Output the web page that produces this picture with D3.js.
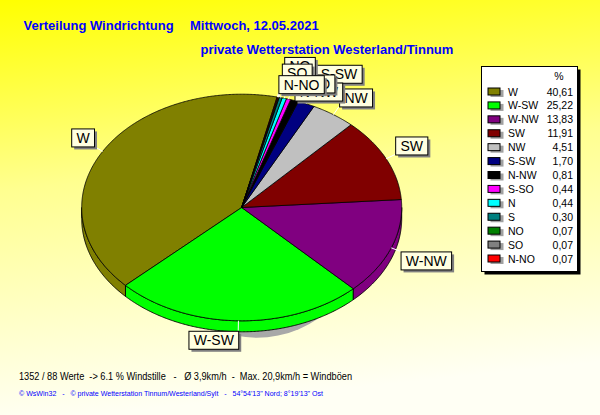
<!DOCTYPE html>
<html><head><meta charset="utf-8">
<script src="https://cdn.jsdelivr.net/npm/d3@7"></script>
<style>body{margin:0;overflow:hidden;background:#fff}svg{display:block}text{white-space:pre}</style>
</head><body>
<svg id="c" width="600" height="415"></svg>
<script>
// ---------- data ----------
const categories = ["W","W-SW","W-NW","SW","NW","S-SW","N-NW","S-SO","N","S","NO","SO","N-NO"];
const percentages = [40.61,25.22,13.83,11.91,4.51,1.70,0.81,0.44,0.44,0.30,0.07,0.07,0.07];
const sliceColors = ["#808000","#00ff00","#800080","#800000","#c0c0c0","#000080","#000000","#ff00ff","#00ffff","#008080","#008000","#808080","#ff0000"];
const titleText = "Verteilung Windrichtung";
const dateText = "Mittwoch, 12.05.2021";
const stationText = "private Wetterstation Westerland/Tinnum";
const statsText = "1352 / 88 Werte  -> 6.1 % Windstille   -   Ø 3,9km/h  -  Max. 20,9km/h = Windböen";
const creditText = "© WsWin32   -   © private Wetterstation Tinnum/Westerland/Sylt   -   54°54'13\" Nord; 8°19'13\" Ost";
const legendHeader = "%";

// ---------- layout ----------
const cx = 241.7, cy = 207.5, rx = 160, ry = 113.3, depth = 11;
const startDeg = 12.8;
// radial nudges of crowded labels (layout only)
const labelRadialNudge = [0,0,0,0,0,13,-10,-3,0,0,13,6,-6];

const svg = d3.select("#c");
const defs = svg.append("defs");
const grad = defs.append("linearGradient").attr("id","bg").attr("x1",0).attr("y1",0).attr("x2",0.15).attr("y2",1);
grad.append("stop").attr("offset","0%").attr("stop-color","#ffff00");
grad.append("stop").attr("offset","45%").attr("stop-color","#ffff90");
grad.append("stop").attr("offset","100%").attr("stop-color","#fffff4");
svg.append("rect").attr("width",600).attr("height",415).attr("fill","url(#bg)");

const data = categories.map((c,i)=>({cat:c, v:percentages[i], color:sliceColors[i], i}));
const a0 = startDeg*Math.PI/180;
const pie = d3.pie().sort(null).value(d=>d.v).startAngle(a0).endAngle(a0-2*Math.PI);
const arcs = pie(data);

function P(t, ex=0, dy=0){ return [cx+(rx+ex)*Math.sin(t), cy-(ry+ex)*Math.cos(t)+dy]; }
function arcPts(u,v,dy){
  const n=Math.max(2,Math.ceil(Math.abs(v-u)/(Math.PI/360)));
  return d3.range(n+1).map(k=>P(u+(v-u)*k/n,0,dy));
}
const line = d3.line();

// shadow
svg.append("ellipse").attr("cx",cx+15).attr("cy",cy+depth+6).attr("rx",110).attr("ry",ry)
  .attr("fill","#a8a8a8");

// side walls
const sideG = svg.append("g");
arcs.forEach(a=>{
  const lo=Math.min(a.startAngle,a.endAngle), hi=Math.max(a.startAngle,a.endAngle);
  for(let k=-2;k<=2;k++){
    const u=Math.max(lo,Math.PI/2+2*Math.PI*k), v=Math.min(hi,3*Math.PI/2+2*Math.PI*k);
    if(v>u){
      const pts=arcPts(u,v,0).concat(arcPts(v,u,depth));
      sideG.append("path").attr("d",line(pts)+"Z").attr("fill",a.data.color)
        .attr("stroke","#000").attr("stroke-width",0.9).attr("stroke-linejoin","round");
    }
  }
});

// top faces
const topG = svg.append("g");
arcs.forEach(a=>{
  const pts=[[cx,cy]].concat(arcPts(a.startAngle,a.endAngle,0));
  topG.append("path").attr("d",line(pts)+"Z").attr("fill",a.data.color)
    .attr("stroke","#000").attr("stroke-width",0.8).attr("stroke-linejoin","round");
});

// labels
const labG = svg.append("g").attr("font-family","Liberation Sans, Arial, sans-serif").attr("font-size",14);
arcs.forEach((a,i)=>{
  const m=(a.startAngle+a.endAngle)/2;
  const s=Math.sin(m), c=Math.cos(m);
  const n=labelRadialNudge[i];
  const edge=P(m,0,0);
  const ax=cx+(rx+10+n)*s, ay=cy-(ry+10+n)*c;
  labG.append("line").attr("x1",edge[0]).attr("y1",edge[1]).attr("x2",ax).attr("y2",ay)
    .attr("stroke","#fff").attr("stroke-width",1);
  const g=labG.append("g");
  const t=g.append("text").text(a.data.cat).attr("fill","#000");
  const tw=t.node().getComputedTextLength();
  const bw=tw+9.6, bh=18;
  const bx = s>=0 ? ax : ax-bw;
  const by = c>=0 ? ay-bh : ay;
  g.insert("rect","text").attr("x",bx+3).attr("y",by+3).attr("width",bw).attr("height",bh).attr("fill","#808080");
  g.insert("rect","text").attr("x",bx+0.5).attr("y",by+0.5).attr("width",bw).attr("height",bh)
    .attr("fill","#ffffe1").attr("stroke","#000").attr("stroke-width",1);
  t.attr("x",bx+4.8+0.5).attr("y",by+14.5);
});

// legend
const lg = svg.append("g").attr("font-family","Liberation Sans, Arial, sans-serif").attr("font-size",10.5);
const lx=481.5, ly=66.5, lw=96, lh=205;
lg.append("rect").attr("x",lx+3).attr("y",ly+3).attr("width",lw).attr("height",lh).attr("fill","#000");
lg.append("rect").attr("x",lx).attr("y",ly).attr("width",lw).attr("height",lh).attr("fill","#fff").attr("stroke","#000");
lg.append("text").attr("x",559).attr("y",80).attr("text-anchor","middle").text(legendHeader);
const rowY = d3.scaleLinear().domain([0,categories.length-1]).range([91.5,258.5]);
const fmt = d3.format(".2f");
data.forEach((d,i)=>{
  const y=rowY(i);
  lg.append("rect").attr("x",490.5).attr("y",y-1.5).attr("width",13).attr("height",7).attr("fill","#a0a0a0");
  lg.append("rect").attr("x",488).attr("y",y-3.5).attr("width",12).attr("height",7).attr("fill",d.color).attr("stroke","#000").attr("stroke-width",1);
  lg.append("text").attr("x",508).attr("y",y+4).text(d.cat);
  lg.append("text").attr("x",573).attr("y",y+4).attr("text-anchor","end").text(fmt(d.v).replace(".",","));
});

// titles
const tg = svg.append("g").attr("font-family","Liberation Sans, Arial, sans-serif").attr("fill","#0000ff").attr("font-weight","bold").attr("font-size",13);
tg.append("text").attr("x",23.5).attr("y",30).text(titleText);
tg.append("text").attr("x",190).attr("y",30).text(dateText);
tg.append("text").attr("x",200.5).attr("y",54).text(stationText);

// footer
svg.append("text").attr("x",19).attr("y",380).attr("font-family","Liberation Sans, Arial, sans-serif")
  .attr("font-size",11.5).attr("fill","#000").attr("textLength",333).attr("lengthAdjust","spacingAndGlyphs").text(statsText);
svg.append("text").attr("x",19).attr("y",396).attr("font-family","Liberation Sans, Arial, sans-serif")
  .attr("font-size",8).attr("fill","#0000ff").attr("textLength",304).attr("lengthAdjust","spacingAndGlyphs").text(creditText);
</script>
</body></html>
